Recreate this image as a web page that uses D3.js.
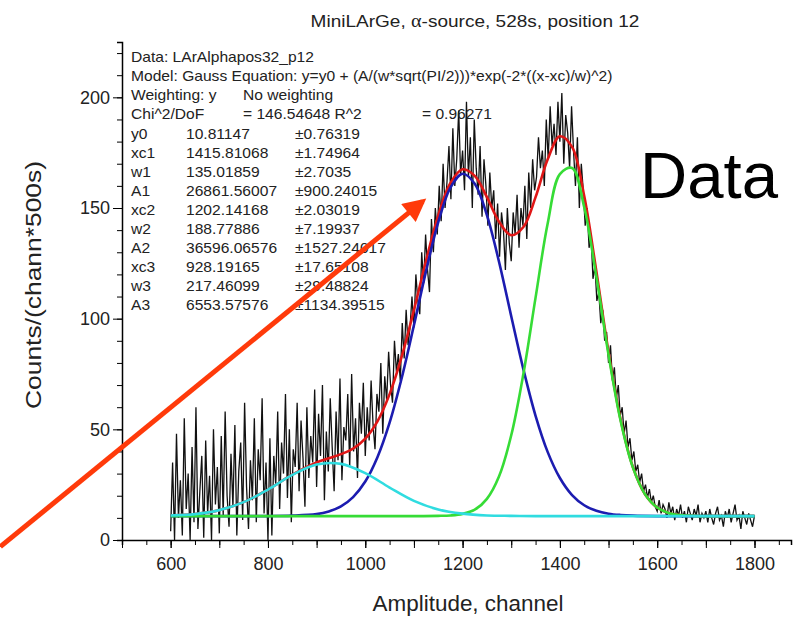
<!DOCTYPE html>
<html>
<head>
<meta charset="utf-8">
<script src="https://cdn.jsdelivr.net/npm/d3@7"></script>
<style>
  body { margin: 0; background: #fff; }
  text { font-family: "Liberation Sans", Arial, sans-serif; }
</style>
</head>
<body>
<svg width="793" height="618"></svg>
<script>
// measured spectrum, one value every 4 channels from 600 to 1800
const dataStart = 600, dataStep = 4;
const counts = [
  4, 35, 0, 48, 10, 27, 2, 55, 14, 30, 0, 42, 8, 60, 5, 22, 38, 1, 45, 12, 29, 0, 50, 16, 33,
  3, 47, 11, 58, 20, 6, 39, 15, 52, 2, 31, 44, 9, 62, 24, 5, 36, 18, 55, 8, 41, 27, 64, 12, 35,
  0, 46, 2, 38, 25, 58, 14, 44, 30, 66, 19, 50, 8, 41, 33, 62, 22, 54, 37, 15, 60, 28, 47, 35, 68,
  24, 57, 38, 70, 18, 49, 31, 64, 42, 22, 58, 36, 73, 27, 51, 45, 66, 33, 75, 40, 55, 28, 62, 48, 71,
  38, 60, 45, 72, 52, 41, 66, 58, 80, 48, 74, 63, 85, 70, 62, 90, 76, 84, 72, 98, 82, 104, 88, 96, 110,
  96, 120, 108, 102, 130, 116, 138, 122, 112, 145, 130, 150, 138, 160, 144, 170, 150, 162, 178, 154, 186, 160, 172, 194, 165,
  176, 158, 198, 164, 182, 150, 190, 168, 156, 178, 146, 172, 160, 142, 166, 150, 158, 136, 152, 128, 148, 140, 122, 150, 134,
  126, 148, 138, 156, 132, 150, 142, 160, 136, 166, 150, 172, 158, 164, 182, 168, 176, 160, 190, 172, 196, 178, 188, 174, 198,
  180, 202, 170, 192, 184, 168, 196, 176, 160, 182, 150, 170, 158, 142, 150, 132, 138, 118, 124, 108, 112, 98, 104, 90, 94,
  80, 88, 72, 78, 64, 70, 56, 60, 48, 54, 42, 46, 36, 40, 31, 34, 26, 30, 22, 25, 19, 23, 17, 20, 15,
  13, 18, 12, 16, 14, 10, 17, 12, 15, 9, 14, 11, 16, 10, 13, 8, 15, 12, 9, 14, 11, 16, 8, 12, 10,
  13, 8, 14, 10, 7, 12, 15, 9, 11, 6, 13, 10, 14, 8, 12, 16, 9, 11, 5, 13, 10, 7, 12, 9, 6,
  11
];

// fit curves
const sumX = [600, 650, 700, 750, 800, 850, 900, 925, 950, 975, 1000, 1025, 1050, 1075, 1100, 1125, 1150, 1175, 1200, 1225, 1250, 1275, 1300, 1325, 1350, 1375, 1400, 1425, 1450, 1475, 1500, 1525, 1550, 1575, 1600, 1625, 1650, 1675, 1700, 1800];
const sumY = [11.1, 11.7, 13.5, 17.1, 22.8, 29.5, 35.0, 36.9, 38.8, 41.3, 45.8, 53.6, 65.9, 83.0, 103.9, 126.3, 146.7, 161.3, 167.5, 164.5, 154.9, 143.8, 137.7, 141.4, 154.9, 172.0, 182.4, 177.6, 155.4, 121.3, 84.8, 54.2, 33.0, 20.7, 14.7, 12.1, 11.2, 10.9, 10.8, 10.8];

const peak2X = [600, 700, 800, 850, 900, 925, 950, 975, 1000, 1025, 1050, 1075, 1100, 1125, 1150, 1175, 1200, 1225, 1250, 1275, 1300, 1325, 1350, 1375, 1400, 1425, 1450, 1475, 1500, 1525, 1550, 1600, 1700, 1800];
const peak2Y = [10.8, 10.8, 10.8, 11.0, 11.7, 12.9, 15.2, 19.4, 26.4, 37.4, 53.0, 73.3, 97.0, 121.6, 143.6, 159.2, 165.5, 161.0, 146.8, 125.6, 101.1, 77.1, 56.1, 39.7, 28.0, 20.3, 15.7, 13.2, 11.9, 11.3, 11.0, 10.8, 10.8, 10.8];

const peak1X = [600, 900, 1000, 1100, 1150, 1175, 1200, 1225, 1250, 1275, 1300, 1325, 1350, 1375, 1400, 1425, 1450, 1475, 1500, 1525, 1550, 1575, 1600, 1625, 1650, 1675, 1700, 1800];
const peak1Y = [10.8, 10.8, 10.8, 10.8, 10.9, 11.1, 11.8, 13.7, 18.6, 28.8, 47.3, 75.1, 109.5, 143.1, 165.3, 168.1, 150.4, 118.9, 83.7, 53.7, 32.8, 20.7, 14.7, 12.1, 11.2, 10.9, 10.8, 10.8];

const peak3X = [600, 650, 700, 750, 800, 850, 900, 950, 1000, 1050, 1100, 1150, 1200, 1250, 1300, 1350, 1400, 1800];
const peak3Y = [11.1, 11.7, 13.5, 17.1, 22.8, 29.4, 34.1, 34.4, 30.2, 23.7, 17.7, 13.8, 11.9, 11.1, 10.9, 10.8, 10.8, 10.8];

// fit report
const reportHead = ["Data: LArAlphapos32_p12", "Model: Gauss Equation: y=y0 + (A/(w*sqrt(PI/2)))*exp(-2*((x-xc)/w)^2)"];
const paramNames = ["y0", "xc1", "w1", "A1", "xc2", "w2", "A2", "xc3", "w3", "A3"];
const paramValues = ["10.81147", "1415.81068", "135.01859", "26861.56007", "1202.14168", "188.77886", "36596.06576", "928.19165", "217.46099", "6553.57576"];
const paramErrors = ["±0.76319", "±1.74964", "±2.7035", "±900.24015", "±2.03019", "±7.19937", "±1527.24017", "±17.65108", "±29.48824", "±1134.39515"];

const xTickLabels = [600, 800, 1000, 1200, 1400, 1600, 1800];
const yTickLabels = [0, 50, 100, 150, 200];

const svg = d3.select("svg");
const x = d3.scaleLinear().domain([500, 1875]).range([122, 791]);
const y = d3.scaleLinear().domain([0, 225]).range([540, 42]);

// text squeezed like the original picture (wider than tall)
function label(g, px, py, str, size, sx, anchor) {
  return g.append("text").attr("transform", `translate(${px},${py}) scale(${sx},1)`)
    .attr("font-size", size).attr("text-anchor", anchor || "start").text(str);
}

// axes
svg.append("g").attr("transform", "translate(0,540)")
  .call(d3.axisBottom(x).tickValues(d3.range(500, 1876, 50)).tickSize(5).tickFormat(""))
  .call(g => g.select(".domain").attr("stroke-width", 1.5));
svg.append("g").attr("transform", "translate(0,540)")
  .call(d3.axisBottom(x).tickValues(d3.range(500, 1876, 100)).tickSize(8).tickFormat(""))
  .call(g => g.select(".domain").remove());
svg.append("g").attr("transform", "translate(0,540)")
  .call(d3.axisBottom(x).tickValues(xTickLabels).tickSize(8).tickPadding(9).tickFormat(d3.format("d")))
  .call(g => g.select(".domain").remove())
  .selectAll("text").attr("font-size", 18).attr("fill", "#222").attr("font-family", "Liberation Sans, Arial");

svg.append("g").attr("transform", "translate(122,0)")
  .call(d3.axisLeft(y).tickValues(d3.range(0, 226, 10)).tickSize(5).tickFormat(""))
  .call(g => g.select(".domain").attr("stroke-width", 1.5));
svg.append("g").attr("transform", "translate(122,0)")
  .call(d3.axisLeft(y).tickValues(yTickLabels).tickSize(9).tickPadding(3))
  .call(g => g.select(".domain").remove())
  .selectAll("text").attr("font-size", 18).attr("fill", "#222").attr("font-family", "Liberation Sans, Arial");

// spectrum
const line = d3.line().x(d => x(d[0])).y(d => y(d[1]));
const spectrum = counts.map((v, i) => [dataStart + i * dataStep, v]);
svg.append("path").datum(spectrum).attr("d", line)
  .attr("fill", "none").attr("stroke", "#111").attr("stroke-width", 1.3);

// fits
const smooth = d3.line().x(d => x(d[0])).y(d => y(d[1])).curve(d3.curveCatmullRom);
const curves = [
  { xs: sumX, ys: sumY, color: "#e01616" },
  { xs: peak2X, ys: peak2Y, color: "#1c1cb0" },
  { xs: peak1X, ys: peak1Y, color: "#36dc36" },
  { xs: peak3X, ys: peak3Y, color: "#30dce0" }
];
curves.forEach(c => {
  svg.append("path").datum(c.xs.map((v, i) => [v, c.ys[i]])).attr("d", smooth)
    .attr("fill", "none").attr("stroke", c.color).attr("stroke-width", 2.6);
});

// report text
const rep = svg.append("g").attr("fill", "#222");
const fs = 14, sx = 1.115;
reportHead.forEach((t, i) => label(rep, 131, 62 + i * 19.1, t, fs, sx));
label(rep, 131, 100.2, "Weighting: y", fs, sx);
label(rep, 243, 100.2, "No weighting", fs, sx);
label(rep, 131, 119.3, "Chi^2/DoF", fs, sx);
label(rep, 243, 119.3, "= 146.54648 R^2", fs, sx);
label(rep, 422, 119.3, "=  0.96271", fs, sx);
paramNames.forEach((n, i) => {
  const yy = 138.5 + i * 19.1;
  label(rep, 131, yy, n, fs, sx);
  label(rep, 186, yy, paramValues[i], fs, sx);
  label(rep, 295, yy, paramErrors[i], fs, sx);
});

// titles
const title = svg.append("text").attr("transform", "translate(475,27) scale(1.12,1)")
  .attr("text-anchor", "middle").attr("font-size", 17).attr("fill", "#222");
title.append("tspan").text("MiniLArGe, ");
title.append("tspan").attr("font-family", "Liberation Serif, serif").attr("font-size", 18).text("α");
title.append("tspan").text("-source, 528s, position 12");

label(svg, 468, 611, "Amplitude, channel", 22, 1.02, "middle").attr("fill", "#222");
svg.append("text").attr("transform", "translate(41,285) rotate(-90)").attr("text-anchor", "middle")
  .attr("font-size", 22).attr("textLength", 248).attr("lengthAdjust", "spacingAndGlyphs")
  .attr("fill", "#222").text("Counts/(chann*500s)");

// annotation
svg.append("text").attr("x", 640).attr("y", 198).attr("font-size", 64)
  .attr("font-family", "Comic Sans MS, DejaVu Sans, cursive").attr("textLength", 138)
  .attr("lengthAdjust", "spacingAndGlyphs").attr("fill", "#000").text("Data");

const arrowFrom = [250, -3], arrowTo = [1118, 153];
svg.append("defs").append("marker").attr("id", "head")
  .attr("viewBox", "0 0 10 10").attr("refX", 8).attr("refY", 5)
  .attr("markerWidth", 5.2).attr("markerHeight", 4.6).attr("orient", "auto")
  .append("path").attr("d", "M0,0 L10,5 L0,10 Z").attr("fill", "#ff3a0a");
svg.append("line")
  .attr("x1", x(arrowFrom[0])).attr("y1", y(arrowFrom[1]))
  .attr("x2", x(arrowTo[0])).attr("y2", y(arrowTo[1]))
  .attr("stroke", "#ff3a0a").attr("stroke-width", 5).attr("marker-end", "url(#head)");
</script>
</body>
</html>
